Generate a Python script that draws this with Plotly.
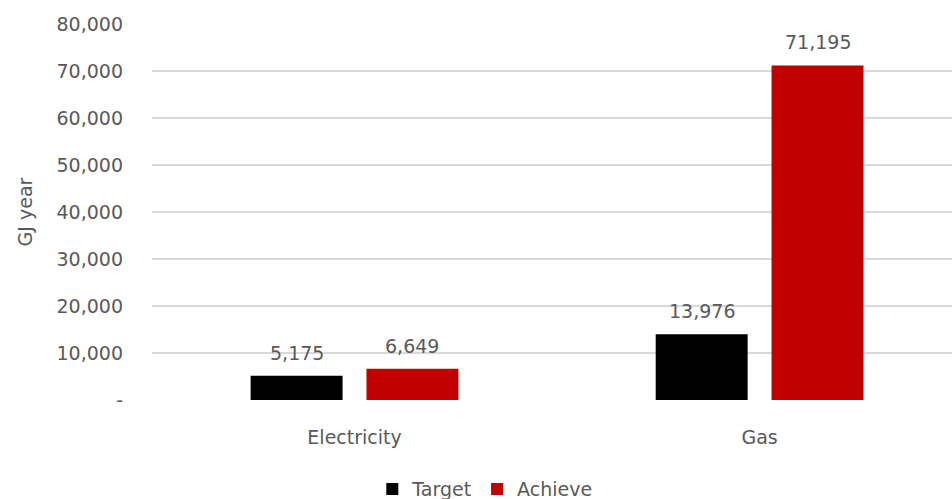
import plotly.graph_objects as go

# Energy savings by source (GJ per year)
categories = ["Electricity", "Gas"]
target = [5175, 13976]
achieve = [6649, 71195]
series_names = ["Target", "Achieve"]
series_colors = ["#000000", "#c00000"]

y_tick_values = [0, 10000, 20000, 30000, 40000, 50000, 60000, 70000, 80000]
y_tick_labels = ["-", "10,000", "20,000", "30,000", "40,000", "50,000",
                 "60,000", "70,000", "80,000"]

FONT = "DejaVu Sans"
GREY = "#595959"
BAR_W = 0.227
GAP = 0.059
offsets = [-GAP / 2 - BAR_W, GAP / 2]

fig = go.Figure()
x_idx = list(range(len(categories)))
for name, vals, color, off in zip(series_names, [target, achieve], series_colors, offsets):
    fig.add_trace(go.Bar(
        name=name, x=x_idx, y=vals, width=BAR_W, offset=off,
        marker=dict(color=color, line=dict(width=0)),
    ))
    for xi, v in zip(x_idx, vals):
        fig.add_annotation(
            x=xi + off + BAR_W / 2, y=v, text=f"{v:,}", showarrow=False,
            yanchor="bottom", yshift=10,
            font=dict(family=FONT, size=19, color=GREY),
        )

fig.update_layout(
    width=952, height=499,
    margin=dict(l=152, r=0, t=24, b=99, autoexpand=False),
    paper_bgcolor="white", plot_bgcolor="white",
    barmode="overlay",
    font=dict(family=FONT, size=19, color=GREY),
    showlegend=True,
    legend=dict(orientation="h", x=0.416, xanchor="center", y=-0.237, yanchor="middle",
                font=dict(family=FONT, size=19, color=GREY),
                itemwidth=30, traceorder="normal"),
    xaxis=dict(
        range=[-0.5, 1.475], tickvals=x_idx, ticktext=categories,
        showgrid=False, zeroline=False, showline=False, ticks="",
        ticklabelstandoff=24, fixedrange=True,
    ),
    yaxis=dict(
        range=[0, 80000], tickvals=y_tick_values, ticktext=y_tick_labels,
        showgrid=True, gridcolor="#d9d9d9", gridwidth=1.5,
        zeroline=False, showline=False, ticks="",
        ticklabelstandoff=28,
        title=dict(text="GJ year", font=dict(family=FONT, size=19, color=GREY), standoff=18),
    ),
)

fig.write_html("out.html")
